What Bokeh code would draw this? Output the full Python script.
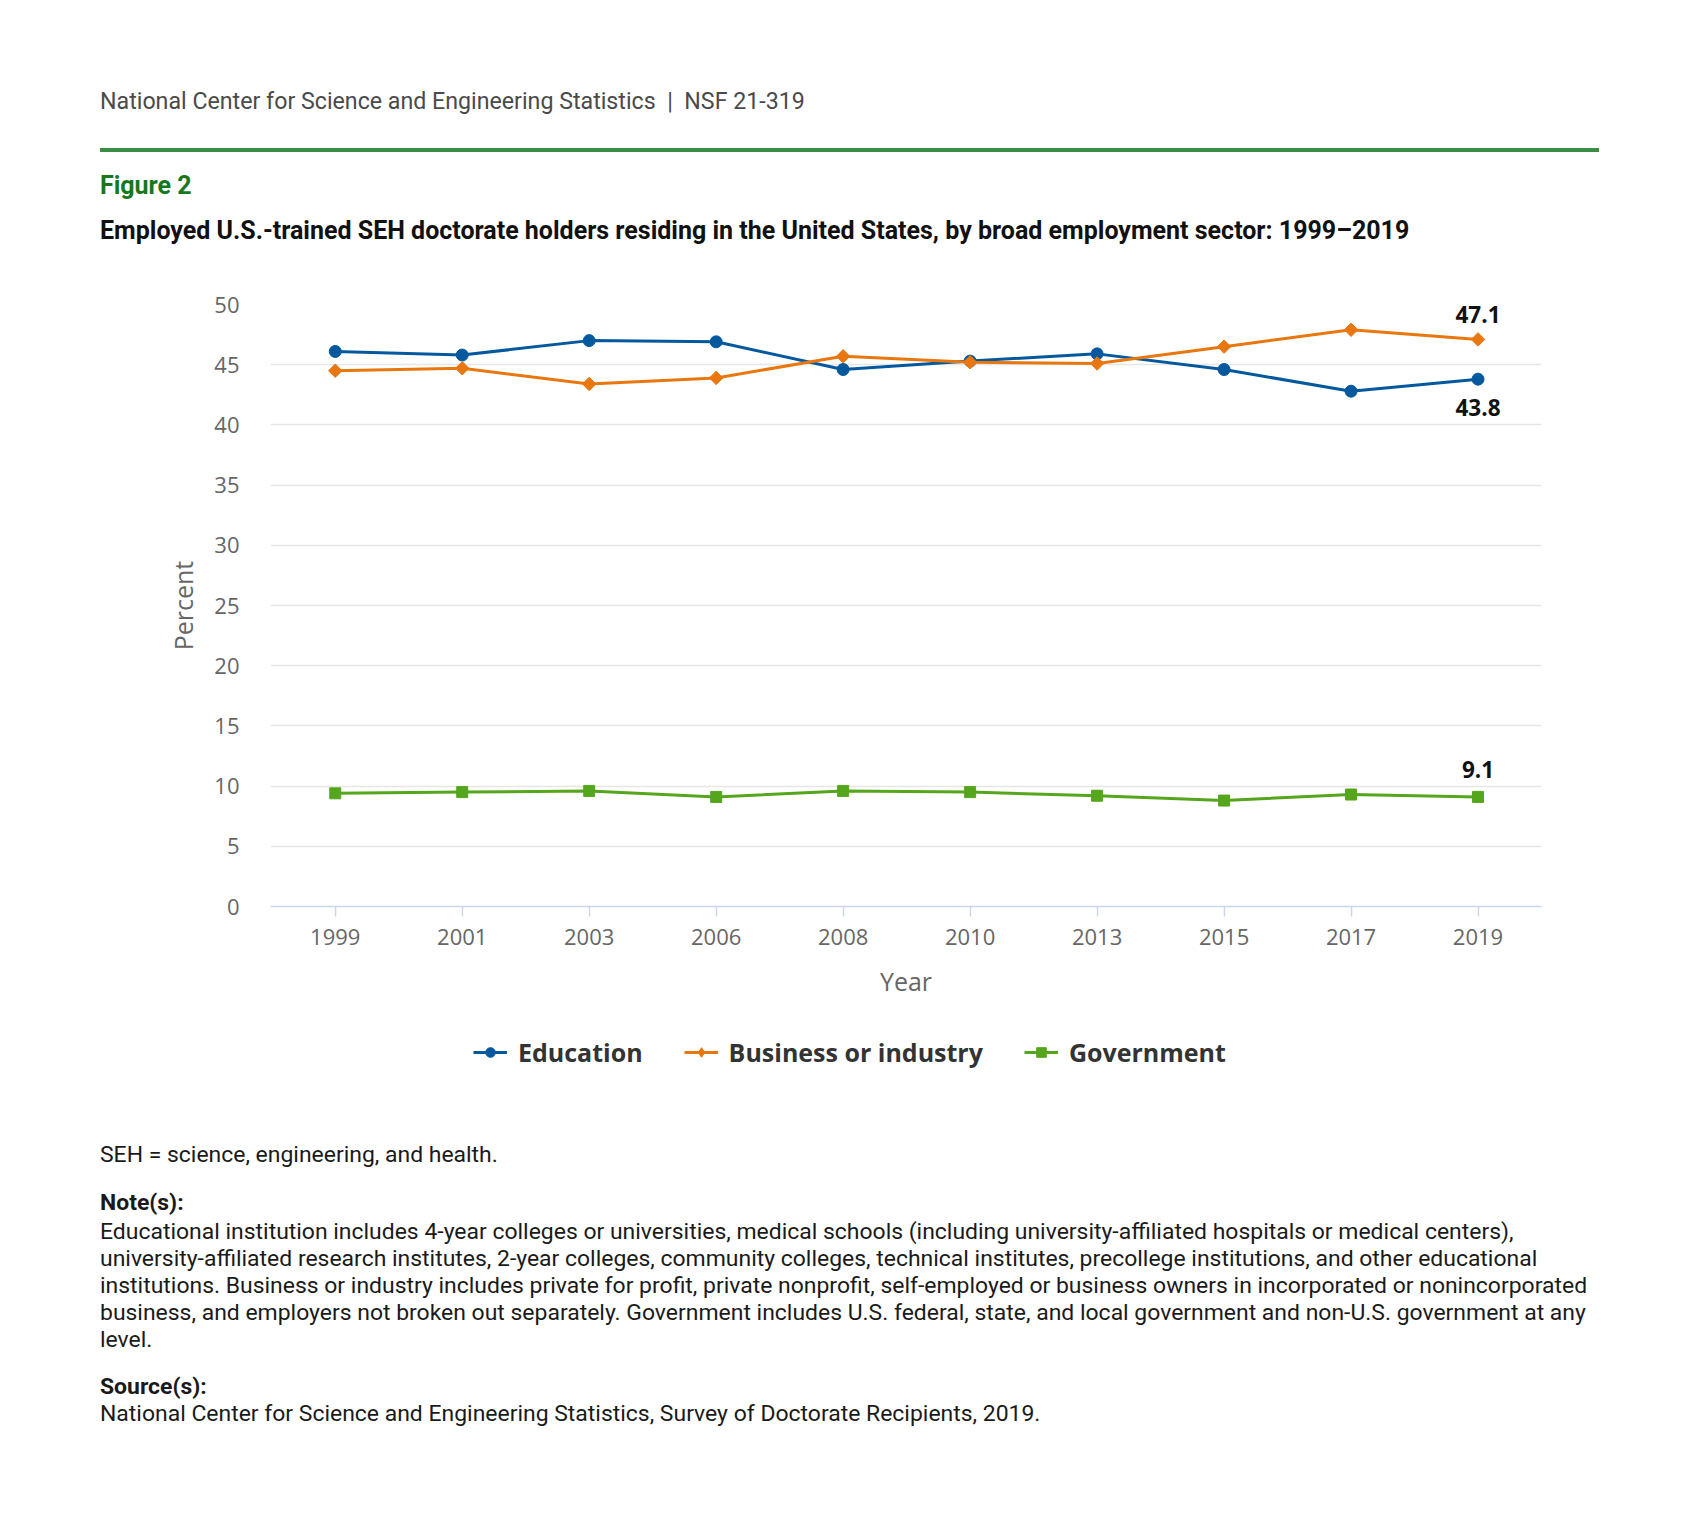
import math
from bokeh.plotting import figure
from bokeh.models import (Range1d, FixedTicker, Legend, LegendItem, Label, Div)
from bokeh.layouts import column
from bokeh.embed import file_html
from bokeh.resources import INLINE

# ---------------- data ----------------
years = ["1999", "2001", "2003", "2006", "2008", "2010", "2013", "2015", "2017", "2019"]
education = [46.1, 45.8, 47.0, 46.9, 44.6, 45.3, 45.9, 44.6, 42.8, 43.8]
business = [44.5, 44.7, 43.4, 43.9, 45.7, 45.2, 45.1, 46.5, 47.9, 47.1]
government = [9.4, 9.5, 9.6, 9.1, 9.6, 9.5, 9.2, 8.8, 9.3, 9.1]
y_ticks = [0, 5, 10, 15, 20, 25, 30, 35, 40, 45, 50]
series_names = ["Education", "Business or industry", "Government"]

BLUE = "#04599e"
ORANGE = "#e8770f"
GREEN = "#55a61c"
CHART_FONT = "Open Sans"
TEXT_FONT = "Roboto"
PAGE_W = 1690

x = list(range(len(years)))

# ---------------- header ----------------
header_html = f"""
<div style="position:relative;width:{PAGE_W}px;height:268px;font-family:{TEXT_FONT};">
  <div style="position:absolute;left:100px;top:86px;font-size:23.2px;line-height:30px;color:#4a4a4a;white-space:nowrap;">National Center for Science and Engineering Statistics&nbsp;&nbsp;|&nbsp;&nbsp;NSF 21-319</div>
  <div style="position:absolute;left:100px;top:148px;width:1499px;height:4px;background:#3b8c45;"></div>
  <div style="position:absolute;left:100px;top:170px;font-size:25px;line-height:32px;font-weight:bold;color:#17771d;white-space:nowrap;">Figure 2</div>
  <div style="position:absolute;left:100px;top:215px;font-size:25px;line-height:32px;font-weight:bold;color:#111111;white-space:nowrap;">Employed U.S.-trained SEH doctorate holders residing in the United States, by broad employment sector: 1999&ndash;2019</div>
</div>
"""
header = Div(text=header_html, width=PAGE_W, height=268, styles={"margin": "0", "padding": "0"})

# ---------------- chart ----------------
p = figure(width=PAGE_W, height=744, output_backend="svg", toolbar_location=None,
           x_range=Range1d(-0.51, 9.5), y_range=Range1d(0, 50),
           min_border_left=270, min_border_right=PAGE_W - 270 - 1271,
           min_border_top=36, min_border_bottom=106)
p.outline_line_color = None
p.background_fill_color = "white"
p.border_fill_color = "white"

p.xgrid.grid_line_color = None
p.ygrid.grid_line_color = "#e6e6e6"
p.ygrid.grid_line_width = 1.5
p.ygrid.ticker = FixedTicker(ticks=y_ticks)

# y axis
p.yaxis.ticker = FixedTicker(ticks=y_ticks)
p.yaxis.axis_line_color = None
p.yaxis.major_tick_line_color = None
p.yaxis.minor_tick_line_color = None
p.yaxis.major_label_text_font = CHART_FONT
p.yaxis.major_label_text_font_size = "22px"
p.yaxis.major_label_text_color = "#666666"
p.yaxis.major_label_standoff = 25
p.yaxis.axis_label = "Percent"
p.yaxis.axis_label_text_font = CHART_FONT
p.yaxis.axis_label_text_font_size = "25px"
p.yaxis.axis_label_text_font_style = "normal"
p.yaxis.axis_label_text_color = "#666666"
p.yaxis.axis_label_standoff = 11

# x axis
p.xaxis.ticker = FixedTicker(ticks=x)
p.xaxis.major_label_overrides = {i: yr for i, yr in zip(x, years)}
p.xaxis.axis_line_color = "#ccd6eb"
p.xaxis.axis_line_width = 1.5
p.xaxis.major_tick_line_color = "#ccd6eb"
p.xaxis.major_tick_line_width = 1.5
p.xaxis.major_tick_in = 0
p.xaxis.major_tick_out = 10
p.xaxis.minor_tick_line_color = None
p.xaxis.major_label_text_font = CHART_FONT
p.xaxis.major_label_text_font_size = "22px"
p.xaxis.major_label_text_color = "#666666"
p.xaxis.major_label_standoff = 12
p.xaxis.axis_label = "Year"
p.xaxis.axis_label_text_font = CHART_FONT
p.xaxis.axis_label_text_font_size = "25px"
p.xaxis.axis_label_text_font_style = "normal"
p.xaxis.axis_label_text_color = "#666666"
p.xaxis.axis_label_standoff = 16

# series
p.line(x, education, color=BLUE, line_width=3)
p.scatter(x, education, marker="circle", size=12, color=BLUE)
p.line(x, business, color=ORANGE, line_width=3)
p.scatter(x, business, marker="square", angle=math.pi / 4, size=9.5, color=ORANGE)
p.line(x, government, color=GREEN, line_width=3)
p.scatter(x, government, marker="square", size=11, color=GREEN)

# data labels on the last point
lab_style = dict(text_font=CHART_FONT, text_font_size="22.5px", text_font_style="bold",
                 text_color="#111111", text_align="center", text_baseline="middle")
p.add_layout(Label(x=x[-1], y=business[-1], text=f"{business[-1]:.1f}", y_offset=25, x_offset=0, **lab_style))
p.add_layout(Label(x=x[-1], y=education[-1], text=f"{education[-1]:.1f}", y_offset=-28.5, x_offset=0, **lab_style))
p.add_layout(Label(x=x[-1], y=government[-1], text=f"{government[-1]:.1f}", y_offset=27, x_offset=0, **lab_style))

# ---------------- legend (separate strip, frame aligned with the chart) ----------------
lg = figure(width=PAGE_W, height=80, output_backend="svg", toolbar_location=None,
            x_axis_type=None, y_axis_type=None, x_range=Range1d(0, 1), y_range=Range1d(0, 1),
            min_border_left=270, min_border_right=PAGE_W - 270 - 1271,
            min_border_top=0, min_border_bottom=0)
lg.outline_line_color = None
lg.grid.visible = False

# legend-only renderers: their single point lies outside this strip's ranges
off = [-5.0]
items = []
for name, col, mk, sz in [(series_names[0], BLUE, "circle", 10),
                          (series_names[1], ORANGE, "diamond", 13),
                          (series_names[2], GREEN, "square", 9)]:
    rl = lg.line(off * 2, off * 2, color=col, line_width=3)
    rm = lg.scatter(off, off, marker=mk, size=sz, color=col)
    items.append(LegendItem(label=name, renderers=[rl, rm]))

legend = Legend(items=items, orientation="horizontal", location="left",
                label_text_font=CHART_FONT, label_text_font_style="bold",
                label_text_font_size="25px", label_text_color="#333333",
                glyph_width=34, glyph_height=24, label_standoff=11, spacing=41,
                padding=0, margin=203, border_line_color=None, background_fill_alpha=0)
lg.add_layout(legend, "center")

# ---------------- notes ----------------
note_lines = [
    "Educational institution includes 4-year colleges or universities, medical schools (including university-affiliated hospitals or medical centers),",
    "university-affiliated research institutes, 2-year colleges, community colleges, technical institutes, precollege institutions, and other educational",
    "institutions. Business or industry includes private for profit, private nonprofit, self-employed or business owners in incorporated or nonincorporated",
    "business, and employers not broken out separately. Government includes U.S. federal, state, and local government and non-U.S. government at any",
    "level.",
]
notes_html = f"""
<div style="position:relative;width:{PAGE_W}px;height:400px;font-family:{TEXT_FONT};color:#1a1a1a;font-size:22.95px;">
  <div style="position:absolute;left:100px;top:49px;line-height:28px;white-space:nowrap;">SEH = science, engineering, and health.</div>
  <div style="position:absolute;left:100px;top:97px;line-height:28px;font-weight:bold;white-space:nowrap;">Note(s):</div>
  <div style="position:absolute;left:100px;top:127px;line-height:26.9px;white-space:nowrap;">{'<br>'.join(note_lines)}</div>
  <div style="position:absolute;left:100px;top:281px;line-height:28px;font-weight:bold;white-space:nowrap;">Source(s):</div>
  <div style="position:absolute;left:100px;top:308px;line-height:28px;white-space:nowrap;">National Center for Science and Engineering Statistics, Survey of Doctorate Recipients, 2019.</div>
</div>
"""
notes = Div(text=notes_html, width=PAGE_W, height=400, styles={"margin": "0", "padding": "0"})

layout = column(header, p, lg, notes, spacing=0)
open("out.html", "w").write(file_html(layout, INLINE))
